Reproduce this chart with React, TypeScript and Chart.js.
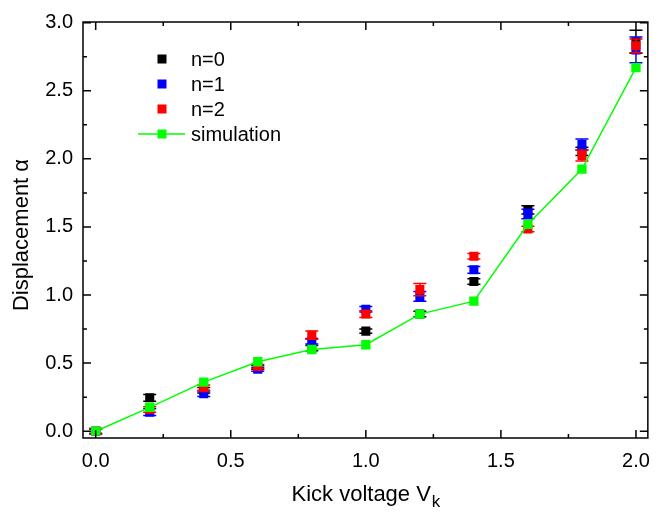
import { useEffect, useRef } from "react";
import { Chart, registerables } from "chart.js";

Chart.register(...registerables);

const kickVoltage = [0, 0.2, 0.4, 0.6, 0.8, 1.0, 1.2, 1.4, 1.6, 1.8, 2.0];

const n0Values = [0.0, 0.245, 0.3, 0.47, 0.61, 0.735, 0.86, 1.1, 1.625, 2.055, 2.86];
const n0Errors = [0.02, 0.025, 0.02, 0.015, 0.02, 0.015, 0.02, 0.02, 0.03, 0.03, 0.085];

const n1Values = [0.0, 0.14, 0.275, 0.455, 0.66, 0.895, 0.99, 1.185, 1.595, 2.105, 2.8];
const n1Errors = [0.015, 0.025, 0.02, 0.015, 0.02, 0.02, 0.035, 0.025, 0.035, 0.04, 0.095];

const n2Values = [0.0, 0.16, 0.32, 0.475, 0.705, 0.86, 1.04, 1.285, 1.485, 2.025, 2.83];
const n2Errors = [0.02, 0.02, 0.02, 0.015, 0.03, 0.025, 0.045, 0.02, 0.02, 0.04, 0.05];

const simulationValues = [0.0, 0.175, 0.36, 0.51, 0.6, 0.635, 0.86, 0.955, 1.52, 1.925, 2.67];

const xTickValues = [0, 0.5, 1.0, 1.5, 2.0];
const yTickValues = [0, 0.5, 1.0, 1.5, 2.0, 2.5, 3.0];
const xMinorTicks = [0.25, 0.75, 1.25, 1.75];
const yMinorTicks = [0.25, 0.75, 1.25, 1.75, 2.25, 2.75];

const legendLabels = ["n=0", "n=1", "n=2", "simulation"];
const xTitle = "Kick voltage V";
const xTitleSub = "k";
const yTitle = "Displacement α";

const FONT = "'Liberation Sans', Arial, Helvetica, sans-serif";
const BLACK = "#000000";
const BLUE = "#0000ff";
const RED = "#ff0000";
const GREEN = "#00ff00";

export default function App() {
  const ref = useRef<HTMLCanvasElement | null>(null);

  useEffect(() => {
    document.body.style.margin = "0";
    const canvas = ref.current;
    if (!canvas) return;

    const pts = (arr: number[]) => kickVoltage.map((x, i) => ({ x, y: arr[i] }));

    // dataset order: sim (top), n2, n1, n0 (bottom)
    const errorsByIndex: (number[] | null)[] = [null, n2Errors, n1Errors, n0Errors];
    const colorsByIndex = [GREEN, RED, BLUE, BLACK];

    const errorBarPlugin = {
      id: "errorBars",
      beforeDatasetDraw(chart: any, args: any) {
        const idx = args.index;
        const errs = errorsByIndex[idx];
        if (!errs) return;
        const ds = chart.data.datasets[idx];
        const xs = chart.scales.x;
        const ys = chart.scales.y;
        const c = chart.ctx;
        c.save();
        c.strokeStyle = colorsByIndex[idx];
        c.lineWidth = 1.5;
        ds.data.forEach((p: any, i: number) => {
          const px = xs.getPixelForValue(p.x);
          const top = ys.getPixelForValue(p.y + errs[i]);
          const bot = ys.getPixelForValue(p.y - errs[i]);
          c.beginPath();
          c.moveTo(px, top);
          c.lineTo(px, bot);
          c.moveTo(px - 6.5, top);
          c.lineTo(px + 6.5, top);
          c.moveTo(px - 6.5, bot);
          c.lineTo(px + 6.5, bot);
          c.stroke();
        });
        c.restore();
      },
    };

    const framePlugin = {
      id: "frame",
      afterDraw(chart: any) {
        const c = chart.ctx;
        const a = chart.chartArea;
        const xs = chart.scales.x;
        const ys = chart.scales.y;
        c.save();
        c.strokeStyle = BLACK;
        c.lineWidth = 1.5;
        c.strokeRect(a.left, a.top, a.right - a.left, a.bottom - a.top);
        c.beginPath();
        const major = 8;
        const minor = 4;
        xTickValues.forEach((v) => {
          const px = xs.getPixelForValue(v);
          c.moveTo(px, a.bottom);
          c.lineTo(px, a.bottom - major);
          c.moveTo(px, a.top);
          c.lineTo(px, a.top + major);
        });
        xMinorTicks.forEach((v) => {
          const px = xs.getPixelForValue(v);
          c.moveTo(px, a.bottom);
          c.lineTo(px, a.bottom - minor);
          c.moveTo(px, a.top);
          c.lineTo(px, a.top + minor);
        });
        yTickValues.forEach((v) => {
          const py = ys.getPixelForValue(v);
          c.moveTo(a.left, py);
          c.lineTo(a.left + major, py);
          c.moveTo(a.right, py);
          c.lineTo(a.right - major, py);
        });
        yMinorTicks.forEach((v) => {
          const py = ys.getPixelForValue(v);
          c.moveTo(a.left, py);
          c.lineTo(a.left + minor, py);
          c.moveTo(a.right, py);
          c.lineTo(a.right - minor, py);
        });
        c.stroke();

        // legend
        const legendColors = [BLACK, BLUE, RED, GREEN];
        const lx = 162;
        const ly0 = 59;
        const step = 25;
        c.font = `20px ${FONT}`;
        c.textBaseline = "middle";
        c.textAlign = "left";
        legendLabels.forEach((lab, i) => {
          const y = ly0 + i * step;
          if (i === 3) {
            c.strokeStyle = GREEN;
            c.lineWidth = 1.5;
            c.beginPath();
            c.moveTo(138, y);
            c.lineTo(185, y);
            c.stroke();
          }
          c.fillStyle = legendColors[i];
          c.fillRect(lx - 4.5, y - 4.5, 9, 9);
          c.fillStyle = BLACK;
          c.fillText(lab, 191, y + 1);
        });

        // x title
        const cx = (a.left + a.right) / 2;
        c.font = `22px ${FONT}`;
        const w1 = c.measureText(xTitle).width;
        c.font = `17px ${FONT}`;
        const w2 = c.measureText(xTitleSub).width;
        const start = cx - (w1 + w2) / 2;
        c.textBaseline = "alphabetic";
        c.fillStyle = BLACK;
        c.font = `22px ${FONT}`;
        c.fillText(xTitle, start, 501);
        c.font = `17px ${FONT}`;
        c.fillText(xTitleSub, start + w1 + 1, 507);

        // y title
        c.save();
        c.translate(28, (a.top + a.bottom) / 2 + 5);
        c.rotate(-Math.PI / 2);
        c.font = `22px ${FONT}`;
        c.textAlign = "center";
        c.textBaseline = "alphabetic";
        c.fillText(yTitle, 0, 0);
        c.restore();
        c.restore();
      },
    };

    const pointOpts = (color: string) => ({
      backgroundColor: color,
      borderColor: color,
      pointStyle: "rect" as const,
      pointRadius: 6.4,
      pointBorderWidth: 0,
      pointHoverRadius: 6.4,
    });

    const chart = new Chart(canvas, {
      type: "scatter",
      data: {
        datasets: [
          {
            label: legendLabels[3],
            data: pts(simulationValues),
            showLine: true,
            borderColor: GREEN,
            borderWidth: 1.5,
            backgroundColor: GREEN,
            pointStyle: "rect",
            pointRadius: 6.6,
            pointBorderWidth: 0,
            pointBackgroundColor: GREEN,
          } as any,
          { label: legendLabels[2], data: pts(n2Values), ...pointOpts(RED) } as any,
          { label: legendLabels[1], data: pts(n1Values), ...pointOpts(BLUE) } as any,
          { label: legendLabels[0], data: pts(n0Values), ...pointOpts(BLACK) } as any,
        ],
      },
      options: {
        responsive: false,
        animation: false,
        devicePixelRatio: 1,
        layout: { padding: { top: 13, right: 3, left: 0, bottom: 0 } },
        plugins: {
          legend: { display: false },
          tooltip: { enabled: false },
        },
        scales: {
          x: {
            type: "linear",
            min: -0.047,
            max: 2.044,
            grid: { display: false, drawTicks: false },
            border: { display: false },
            ticks: {
              padding: 11,
              color: BLACK,
              font: { family: FONT, size: 20 },
              maxRotation: 0,
              callback: (v: any) => Number(v).toFixed(1),
            },
            afterBuildTicks: (s: any) => {
              s.ticks = xTickValues.map((v) => ({ value: v }));
            },
            afterFit: (s: any) => {
              s.height = 77;
            },
          },
          y: {
            type: "linear",
            min: -0.05,
            max: 3.005,
            grid: { display: false, drawTicks: false },
            border: { display: false },
            ticks: {
              padding: 10,
              color: BLACK,
              font: { family: FONT, size: 20 },
              callback: (v: any) => Number(v).toFixed(1),
            },
            afterBuildTicks: (s: any) => {
              s.ticks = yTickValues.map((v) => ({ value: v }));
            },
            afterFit: (s: any) => {
              s.width = 83;
            },
          },
        },
      },
      plugins: [errorBarPlugin, framePlugin],
    });

    return () => {
      chart.destroy();
    };
  }, []);

  return <canvas ref={ref} width={661} height={515} style={{ display: "block" }} />;
}
